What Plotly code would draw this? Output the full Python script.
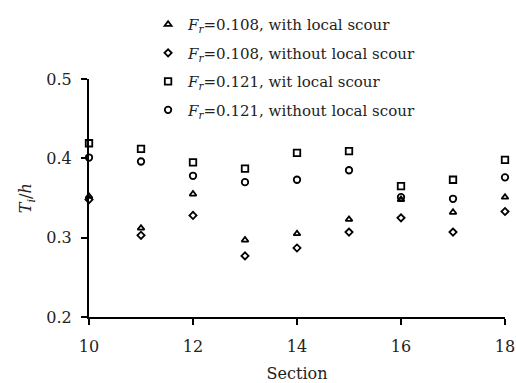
import plotly.graph_objects as go

# Measured ratio T_i/h at each section for two Froude numbers, with and without local scour
sections = [10, 11, 12, 13, 14, 15, 16, 17, 18]
fr108_with_scour = [0.352, 0.312, 0.355, 0.297, 0.305, 0.323, 0.348, 0.332, 0.351]
fr108_without_scour = [0.348, 0.303, 0.328, 0.277, 0.287, 0.307, 0.325, 0.307, 0.333]
fr121_with_scour = [0.419, 0.412, 0.395, 0.387, 0.407, 0.409, 0.365, 0.373, 0.398]
fr121_without_scour = [0.401, 0.396, 0.378, 0.370, 0.373, 0.385, 0.351, 0.349, 0.376]

series_names = [
    "<i>F</i><sub><i>r</i></sub>=0.108, with local scour",
    "<i>F</i><sub><i>r</i></sub>=0.108, without local scour",
    "<i>F</i><sub><i>r</i></sub>=0.121, wit local scour",
    "<i>F</i><sub><i>r</i></sub>=0.121, without local scour",
]
series_values = [fr108_with_scour, fr108_without_scour, fr121_with_scour, fr121_without_scour]
symbols = ["triangle-up-open", "diamond-open", "square-open", "circle-open"]
sizes = [6, 5.5, 6.5, 6.5]

FONT = "DejaVu Serif"
INK = "#222222"

fig = go.Figure()
for i, (name, vals, sym, sz) in enumerate(zip(series_names, series_values, symbols, sizes)):
    fig.add_trace(go.Scatter(
        x=sections, y=vals, mode="markers", name=name,
        legendgroup=f"g{i}",
        marker=dict(symbol=sym, size=sz, color="black", line=dict(color="black", width=1.8)),
        cliponaxis=False,
    ))

# Y-axis label, rotated, to the left of the tick labels
fig.add_annotation(
    text="<i>T</i><sub><i>i</i></sub>/<i>h</i>",
    xref="paper", yref="paper", x=-0.151, y=0.5,
    xanchor="center", yanchor="middle", textangle=-90,
    showarrow=False, font=dict(family=FONT, size=16, color=INK),
)

fig.update_layout(
    width=516, height=383,
    margin=dict(l=89, r=11, t=79, b=66, autoexpand=False),
    paper_bgcolor="white", plot_bgcolor="white",
    font=dict(family=FONT, size=16, color=INK),
    showlegend=True,
    legend=dict(
        x=0.142, y=1.298, xanchor="left", yanchor="top",
        bgcolor="rgba(0,0,0,0)", font=dict(family=FONT, size=15, color=INK),
        tracegroupgap=6,
    ),
    xaxis=dict(
        range=[10, 18], tickvals=[10, 12, 14, 16, 18],
        showgrid=False, zeroline=False, automargin=False,
        showline=True, linecolor="black", linewidth=2,
        ticks="outside", ticklen=6, tickwidth=2, tickcolor="black",
        title=dict(text="Section", standoff=18, font=dict(size=16)),
        tickfont=dict(size=16),
        ticklabelstandoff=8,
    ),
    yaxis=dict(
        range=[0.2, 0.5], tickvals=[0.2, 0.3, 0.4, 0.5], tickformat=".1f",
        showgrid=False, zeroline=False, automargin=False,
        showline=True, linecolor="black", linewidth=2,
        ticks="outside", ticklen=6, tickwidth=2, tickcolor="black",
        tickfont=dict(size=16),
        ticklabelstandoff=6,
    ),
)

fig.write_html("out.html")
